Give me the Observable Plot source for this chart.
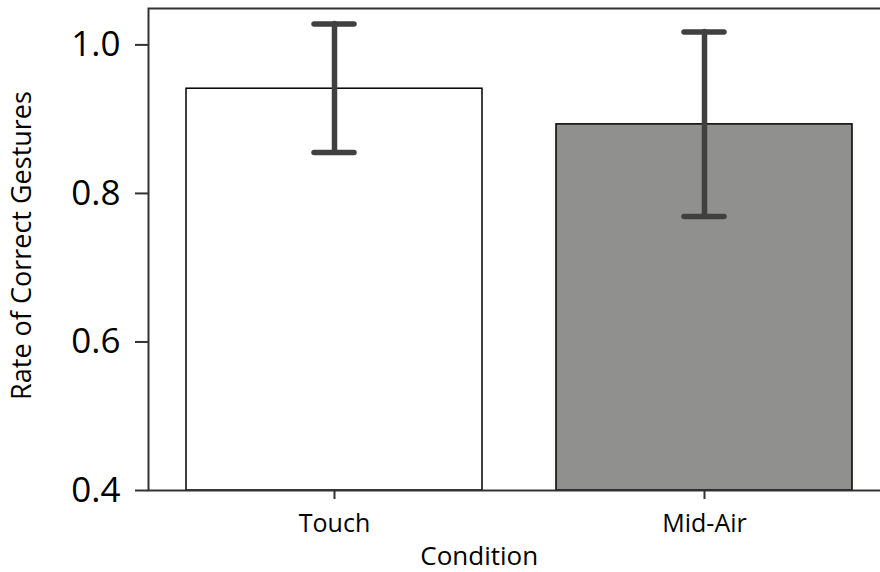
<!DOCTYPE html>
<html>
<head>
<meta charset="utf-8">
<script src="https://cdn.jsdelivr.net/npm/d3@7"></script>
<script src="https://cdn.jsdelivr.net/npm/@observablehq/plot@0.6"></script>
<style>
  html, body { margin: 0; padding: 0; background: #fff; }
  #chart svg { display: block; }
</style>
</head>
<body>
<div id="chart"></div>
<script>
// Data
const conditions = ["Touch", "Mid-Air"];
const means = [0.941, 0.893];
const lows = [0.855, 0.769];
const highs = [1.028, 1.0175];
const fills = ["#ffffff", "#90918e"];
const yTicks = [0.4, 0.6, 0.8, 1.0];
const yDomain = [0.4, 1.049];

const data = conditions.map((c, i) => ({
  cond: c, mean: means[i], low: lows[i], high: highs[i], fill: fills[i], base: yDomain[0]
}));

const axisColor = "#333333";
const errColor = "#404040";

const chart = Plot.plot({
  width: 880,
  height: 572,
  marginLeft: 148,
  marginRight: -9.5,
  marginTop: 8,
  marginBottom: 82,
  style: { fontFamily: "'Open Sans', sans-serif", background: "#fff", color: "#000", overflow: "hidden" },
  x: { domain: conditions, paddingInner: 0.2, paddingOuter: 0.1 },
  y: { domain: yDomain },
  marks: [
    Plot.barY(data, { x: "cond", y1: "base", y2: "mean", fill: "fill", stroke: "#000", strokeWidth: 1.5 }),
    Plot.ruleX(data, { x: "cond", y1: "low", y2: "high", stroke: errColor, strokeWidth: 5.5, strokeLinecap: "round" }),
    Plot.tickY(data, { x: "cond", y: "high", stroke: errColor, strokeWidth: 5.5, strokeLinecap: "round", insetLeft: 128, insetRight: 128 }),
    Plot.tickY(data, { x: "cond", y: "low", stroke: errColor, strokeWidth: 5.5, strokeLinecap: "round", insetLeft: 128, insetRight: 128 }),
    Plot.frame({ stroke: axisColor, strokeWidth: 2 }),
    Plot.axisY({ ticks: yTicks, tickFormat: ".1f", tickSize: 13, tickPadding: 15, fontSize: 35, stroke: axisColor, strokeWidth: 2, label: null, color: "#000" }),
    Plot.axisX({ tickSize: 9, tickPadding: 15, fontSize: 25, stroke: axisColor, strokeWidth: 2, label: null, color: "#000" }),
    Plot.text(["Rate of Correct Gestures"], { frameAnchor: "left", textAnchor: "middle", dx: -126, dy: -4, rotate: -90, fontSize: 27, fill: "#000" }),
    Plot.text(["Condition"], { frameAnchor: "bottom", dx: -40, dy: 74, fontSize: 26, fill: "#000" })
  ]
});

document.getElementById("chart").appendChild(chart);
</script>
</body>
</html>
